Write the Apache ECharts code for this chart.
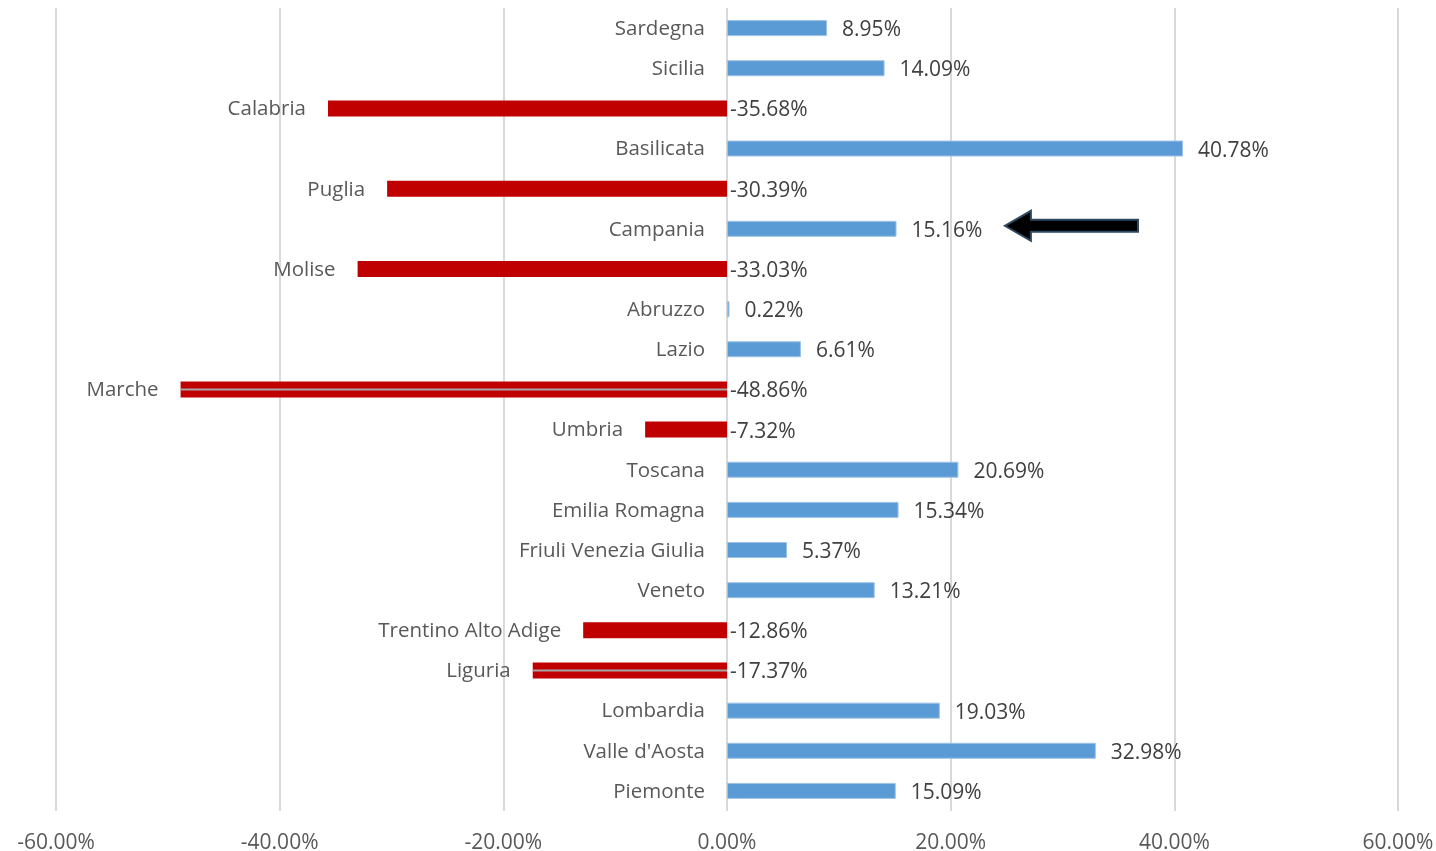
<!DOCTYPE html>
<html>
<head>
<meta charset="utf-8">
<script src="https://cdn.jsdelivr.net/npm/echarts@6/dist/echarts.min.js"></script>
<style>
  html, body { margin: 0; padding: 0; background: #ffffff; }
  #chart { width: 1436px; height: 851px; }
</style>
</head>
<body>
<div id="chart"></div>
<script>
  // regioni, dall'alto verso il basso
  var regions = ['Sardegna', 'Sicilia', 'Calabria', 'Basilicata', 'Puglia', 'Campania', 'Molise',
    'Abruzzo', 'Lazio', 'Marche', 'Umbria', 'Toscana', 'Emilia Romagna', 'Friuli Venezia Giulia',
    'Veneto', 'Trentino Alto Adige', 'Liguria', 'Lombardia', "Valle d'Aosta", 'Piemonte'];
  var changes = [8.95, 14.09, -35.68, 40.78, -30.39, 15.16, -33.03, 0.22, 6.61, -48.86,
    -7.32, 20.69, 15.34, 5.37, 13.21, -12.86, -17.37, 19.03, 32.98, 15.09];
  // linee grigie sovrapposte (Marche, Liguria)
  var leaders = [null, null, null, null, null, null, null, null, null, -48.86,
    null, null, null, null, null, null, -17.37, null, null, null];
  var xTicks = [-60, -40, -20, 0, 20, 40, 60];
  // freccia su Campania: da / a (in %)
  var arrowRegion = 'Campania';
  var arrowFrom = 36.75;
  var arrowTo = 24.85;

  var FONT = '"Open Sans", "Noto Sans", sans-serif';
  var blue = '#5B9BD5';
  var red = '#C00000';

  var chart = echarts.init(document.getElementById('chart'));

  var barData = changes.map(function (v) {
    return {
      value: v,
      itemStyle: v < 0
        ? { color: red, borderColor: red, borderWidth: 0 }
        : { color: blue, borderColor: '#9DC3E6', borderWidth: 1 }
    };
  });
  var labelData = changes.map(function (v) {
    return { value: v, label: { distance: v < 0 ? 3 : 15 } };
  });

  var catAxis = function (show) {
    return {
      type: 'category',
      data: regions,
      inverse: true,
      show: show,
      axisLine: { show: false },
      axisTick: { show: false },
      axisLabel: { show: false },
      splitLine: { show: false }
    };
  };

  var option = {
    animation: false,
    grid: { left: 56, right: 38, top: 8, bottom: 40, containLabel: false, outerBoundsMode: 'none' },
    xAxis: {
      type: 'value',
      min: xTicks[0],
      max: xTicks[xTicks.length - 1],
      interval: 20,
      axisLine: { show: false },
      axisTick: { show: false },
      splitLine: { show: true, lineStyle: { color: '#D9D9D9', width: 2 } },
      axisLabel: {
        margin: 22,
        color: '#595959',
        fontFamily: FONT,
        fontSize: 21,
        formatter: function (v) { return v.toFixed(2) + '%'; }
      }
    },
    yAxis: [catAxis(true), catAxis(false), catAxis(false)],
    series: [
      {
        name: 'Variazione',
        type: 'bar',
        yAxisIndex: 0,
        barWidth: 16,
        data: barData,
        label: {
          show: true,
          position: 'left',
          distance: 22,
          offset: [0, 1],
          color: '#595959',
          fontFamily: FONT,
          fontSize: 20.5,
          formatter: function (p) { return p.name; }
        }
      },
      {
        name: 'leader',
        type: 'bar',
        yAxisIndex: 1,
        barWidth: 2,
        data: leaders,
        itemStyle: { color: '#A6A6A6' },
        silent: true
      },
      {
        name: 'valori',
        type: 'bar',
        yAxisIndex: 2,
        barWidth: 16,
        data: labelData,
        itemStyle: { color: 'rgba(0,0,0,0)' },
        silent: true,
        label: {
          show: true,
          position: 'right',
          offset: [0, 2],
          color: '#404040',
          fontFamily: FONT,
          fontSize: 21,
          formatter: function (p) { return p.value.toFixed(2) + '%'; }
        }
      }
    ]
  };
  chart.setOption(option);

  // freccia, posizionata tramite le scale del grafico
  var tip = chart.convertToPixel({ xAxisIndex: 0, yAxisIndex: 0 }, [arrowTo, arrowRegion]);
  var tail = chart.convertToPixel({ xAxisIndex: 0, yAxisIndex: 0 }, [arrowFrom, arrowRegion]);
  var cy = tip[1] - 3;
  var headLen = 26, headHalf = 15, shaftHalf = 6;
  chart.setOption({
    graphic: [{
      type: 'polygon',
      shape: {
        points: [
          [tip[0], cy],
          [tip[0] + headLen, cy - headHalf],
          [tip[0] + headLen, cy - shaftHalf],
          [tail[0], cy - shaftHalf],
          [tail[0], cy + shaftHalf],
          [tip[0] + headLen, cy + shaftHalf],
          [tip[0] + headLen, cy + headHalf]
        ]
      },
      style: { fill: '#000000', stroke: '#2E4A62', lineWidth: 2 }
    }]
  });
</script>
</body>
</html>
